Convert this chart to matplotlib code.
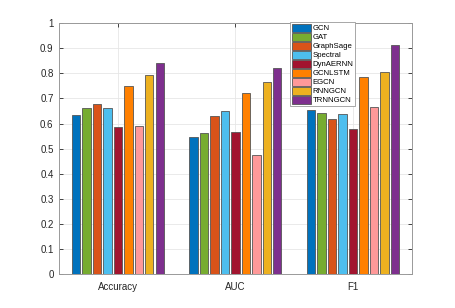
import numpy as np
import matplotlib
matplotlib.use('Agg')
import matplotlib.pyplot as plt

plt.rcParams['font.family'] = ['Liberation Sans', 'DejaVu Sans']

metrics = ['Accuracy', 'AUC', 'F1']
models = ['GCN', 'GAT', 'GraphSage', 'Spectral', 'DynAERNN',
          'GCNLSTM', 'EGCN', 'RNNGCN', 'TRNNGCN']
colors = ['#0072BD', '#77AC30', '#D95319', '#4DBEEE', '#A2142F',
          '#FF8000', '#FF9999', '#EDB120', '#7E2F8E']

# one list per model: Accuracy, AUC, F1
gcn = [0.632, 0.545, 0.653]
gat = [0.660, 0.563, 0.640]
graphsage = [0.677, 0.628, 0.618]
spectral = [0.660, 0.649, 0.636]
dynaernn = [0.588, 0.568, 0.577]
gcnlstm = [0.748, 0.720, 0.786]
egcn = [0.592, 0.475, 0.664]
rnngcn = [0.792, 0.766, 0.805]
trnngcn = [0.841, 0.822, 0.911]
values = [gcn, gat, graphsage, spectral, dynaernn, gcnlstm, egcn, rnngcn, trnngcn]

fig = plt.figure(figsize=(4.55, 3.08), dpi=100)
ax = fig.add_axes([0.13, 0.11, 0.775, 0.815])

x = np.arange(1, len(metrics) + 1)
n = len(models)
gw = 0.8
step = gw / n
for i, (m, v, c) in enumerate(zip(models, values, colors)):
    off = -gw / 2 + step * (i + 0.5)
    ax.bar(x + off, v, width=step * 0.8, color=c, edgecolor='#555555',
           linewidth=0.6, label=m, zorder=3)

ax.set_xlim(0.5, 3.5)
ax.set_ylim(0, 1)
ax.set_xticks(x)
ax.set_xticklabels(metrics)
ax.set_yticks(np.arange(0, 1.01, 0.1))
ax.set_yticklabels(['0', '0.1', '0.2', '0.3', '0.4', '0.5', '0.6', '0.7', '0.8', '0.9', '1'])
ax.grid(True, color='#e6e6e6', linewidth=0.6, zorder=0)
ax.tick_params(direction='in', length=3, width=0.6, labelsize=7,
               colors='#262626', top=True, right=True, pad=4)
ax.tick_params(axis='x', pad=6)
for s in ax.spines.values():
    s.set_color('#999999')
    s.set_linewidth(0.7)

leg = ax.legend(loc='upper left', bbox_to_anchor=(0.655, 1.006), fontsize=5.6,
                frameon=True, fancybox=False, framealpha=1, borderpad=0.25,
                labelspacing=0.05, handlelength=2.4, handleheight=1.2,
                handletextpad=0.25, borderaxespad=0)
leg.get_frame().set_edgecolor('#999999')
leg.get_frame().set_linewidth(0.6)
leg.set_zorder(5)

fig.savefig('out.png', dpi=100)
